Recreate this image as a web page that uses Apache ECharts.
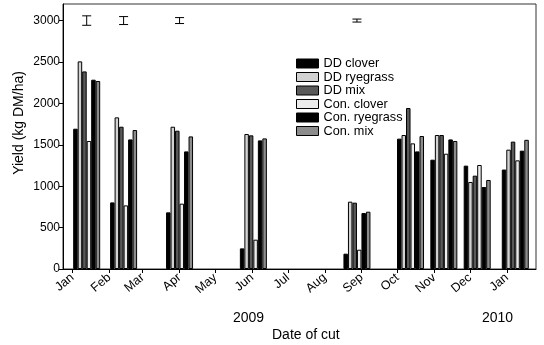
<!DOCTYPE html>
<html><head><meta charset="utf-8">
<script src="https://cdn.jsdelivr.net/npm/echarts@6/dist/echarts.min.js"></script>
<style>html,body{margin:0;padding:0;background:#fff}#c{width:544px;height:345px}</style>
</head><body><div id="c"></div>
<script>
// Cut dates (one group of six bars per cut)
const cutDates = ['2009-01-13','2009-02-13','2009-04-01','2009-06-02','2009-08-28','2009-10-12','2009-11-09','2009-12-07','2010-01-08'];
const seriesNames = ['DD clover','DD ryegrass','DD mix','Con. clover','Con. ryegrass','Con. mix'];
const ddClover    = [1694, 804, 684, 249, 185, 1574, 1320, 1248, 1201];
const ddRyegrass  = [2507, 1831, 1718, 1630, 813, 1618, 1618, 1051, 1441];
const ddMix       = [2386, 1718, 1670, 1614, 801, 1944, 1618, 1127, 1538];
const conClover   = [1546, 768, 789, 354, 233, 1517, 1392, 1256, 1312];
const conRyegrass = [2286, 1565, 1420, 1553, 676, 1420, 1565, 990, 1429];
const conMix      = [2270, 1678, 1601, 1577, 692, 1606, 1546, 1075, 1560];
// Error bars (at y = 3000)
const errDates = ['2009-01-13','2009-02-13','2009-04-01','2009-08-28'];
const errLevel = 3000;
const errHalf  = [57, 48, 36, 18];
// Axis ticks
const monthTickDates = ['2009-01-01','2009-02-01','2009-03-01','2009-04-01','2009-05-01','2009-06-01','2009-07-01','2009-08-01','2009-09-01','2009-10-01','2009-11-01','2009-12-01','2010-01-01'];
const monthLabels = ['Jan','Feb','Mar','Apr','May','Jun','Jul','Aug','Sep','Oct','Nov','Dec','Jan'];
const yTicks = [0, 500, 1000, 1500, 2000, 2500, 3000];

const base = Date.UTC(2009, 0, 1);
const toDay = s => { const [y,m,d] = s.split('-').map(Number); return (Date.UTC(y, m-1, d) - base) / 86400000; };
const cutDays = cutDates.map(toDay);
const monthDays = monthTickDates.map(toDay);

const colors = ['#000000', '#d2d2d2', '#5a5a5a', '#ececec', '#000000', '#8c8c8c'];
const allValues = [ddClover, ddRyegrass, ddMix, conClover, conRyegrass, conMix];
const FONT = 'Liberation Sans, Arial, sans-serif';

const barSeries = seriesNames.map((name, i) => ({
  name, type: 'bar',
  data: cutDays.map((d, j) => [d, allValues[i][j]]),
  barWidth: 4.5, barGap: '0%',
  itemStyle: { color: colors[i], borderColor: '#000', borderWidth: 1 },
  emphasis: { disabled: true },
  animation: false
}));

const errSeries = {
  type: 'custom', silent: true, animation: false,
  data: errDates.map((d, i) => [toDay(d), errLevel, errHalf[i]]),
  renderItem: (params, api) => {
    const x = api.value(0), y = api.value(1), h = api.value(2);
    const top = api.coord([x, y + h]);
    const bot = api.coord([x, y - h]);
    const cw = 4.5;
    const st = { stroke: '#000', lineWidth: 1 };
    return { type: 'group', children: [
      { type: 'line', shape: { x1: top[0], y1: top[1], x2: bot[0], y2: bot[1] }, style: st },
      { type: 'line', shape: { x1: top[0]-cw, y1: top[1], x2: top[0]+cw, y2: top[1] }, style: st },
      { type: 'line', shape: { x1: bot[0]-cw, y1: bot[1], x2: bot[0]+cw, y2: bot[1] }, style: st }
    ]};
  },
  z: 5
};

const chart = echarts.init(document.getElementById('c'), null, { renderer: 'canvas' });
chart.setOption({
  animation: false,
  backgroundColor: '#fff',
  grid: { left: 63, right: 8, top: 4, bottom: 76, show: true, borderColor: '#333', borderWidth: 1, backgroundColor: 'transparent' },
  legend: {
    data: seriesNames, orient: 'vertical', left: 291, top: 52,
    itemWidth: 22, itemHeight: 9, itemGap: 0.5, icon: 'rect',
    itemStyle: { borderColor: '#000', borderWidth: 1 },
    textStyle: { fontFamily: FONT, fontSize: 12.7, color: '#000', lineHeight: 12 },
    selectedMode: false
  },
  xAxis: {
    type: 'value', min: -7.9, max: 389.4,
    splitLine: { show: false },
    axisLine: { show: true, onZero: false, lineStyle: { color: '#000', width: 1 } },
    axisTick: { show: true, customValues: monthDays, length: 4, lineStyle: { color: '#000' } },
    axisLabel: {
      customValues: monthDays, rotate: 40, margin: 7, overflow: 'none',
      fontFamily: FONT, fontSize: 12.5, color: '#000',
      formatter: v => { const i = monthDays.findIndex(d => Math.abs(d - v) < 0.01); return i >= 0 ? monthLabels[i] : ''; }
    }
  },
  yAxis: {
    type: 'value', min: 0, max: 3200, interval: 500,
    splitLine: { show: false },
    axisLine: { show: true, onZero: false, lineStyle: { color: '#000', width: 1 } },
    axisTick: { show: true, customValues: yTicks, length: 4, lineStyle: { color: '#000' } },
    axisLabel: { customValues: yTicks, margin: 3, fontFamily: FONT, fontSize: 12, color: '#000', formatter: v => String(v) }
  },
  graphic: [
    { type: 'text', left: 233, top: 311, style: { text: '2009', fontFamily: FONT, fontSize: 14, fill: '#000' } },
    { type: 'text', left: 482, top: 311, style: { text: '2010', fontFamily: FONT, fontSize: 14, fill: '#000' } },
    { type: 'text', left: 272, top: 328, style: { text: 'Date of cut', fontFamily: FONT, fontSize: 14, fill: '#000' } },
    { type: 'text', x: 19, y: 123, rotation: Math.PI / 2,
      style: { text: 'Yield (kg DM/ha)', fontFamily: FONT, fontSize: 14, fill: '#000', align: 'center', verticalAlign: 'middle' } }
  ],
  series: [...barSeries, errSeries]
});
</script>
</body></html>
